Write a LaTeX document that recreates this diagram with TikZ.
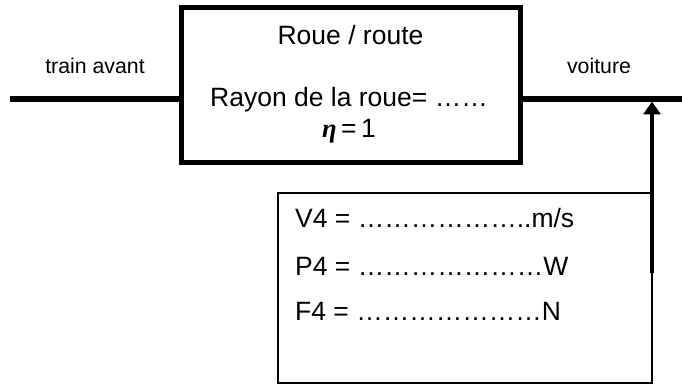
\documentclass[tikz,border=0pt]{standalone}
\usepackage{fontspec}
\setmainfont{Liberation Sans}
\newfontfamily\etafont{Liberation Serif}
\usetikzlibrary{arrows.meta}
\tikzset{
  bigtext/.style={font=\fontsize{26.5}{30}\selectfont, inner sep=0pt, anchor=base},
  smalltext/.style={font=\fontsize{21.3}{25}\selectfont, inner sep=0pt, anchor=base},
  mainblock/.style={draw, line width=5pt, inner sep=0pt, outer sep=0pt},
  databox/.style={draw, line width=1.5pt, inner sep=0pt, outer sep=0pt},
  shaft/.style={line width=5.5pt},
  feed/.style={line width=3.3pt, -{Triangle[length=13pt,width=17pt]}}
}
\begin{document}
\begin{tikzpicture}[x=1pt,y=-1pt]
\useasboundingbox (0,0) rectangle (682,387);
% main block
\node[mainblock, minimum width=339pt, minimum height=155.5pt] (blk) at (350.5,85.25) {};
% data box
\node[databox, minimum width=374pt, minimum height=190pt] (data) at (465,288) {};
% shafts
\coordinate (lin) at (10,99);
\coordinate (lout) at (682,99);
\draw[shaft] (lin) -- (blk.west |- lin);
\draw[shaft] (blk.east |- lout) -- (lout);
% feedback arrow
\coordinate (a0) at (652,273);
\coordinate (a1) at (652,101.5);
\draw[feed] (a0) -- (a1);
% texts
\node[bigtext] (title) at (350.5,45) {Roue / route};
\node[bigtext] (rayon) at (349,107) {Rayon de la roue= ……};
\node[bigtext] (eta) at (349,138) {{\etafont\bfseries\itshape η}\,=\,1};
\node[smalltext] (train) at (95,74) {train avant};
\node[smalltext] (voit) at (599,74) {voiture};
\node[bigtext, anchor=base west] (v4) at (295,228) {V4 = ………………..m/s};
\node[bigtext, anchor=base west] (p4) at (295,275) {P4 = …………………W};
\node[bigtext, anchor=base west] (f4) at (295,320) {F4 = …………………N};
\end{tikzpicture}
\end{document}
